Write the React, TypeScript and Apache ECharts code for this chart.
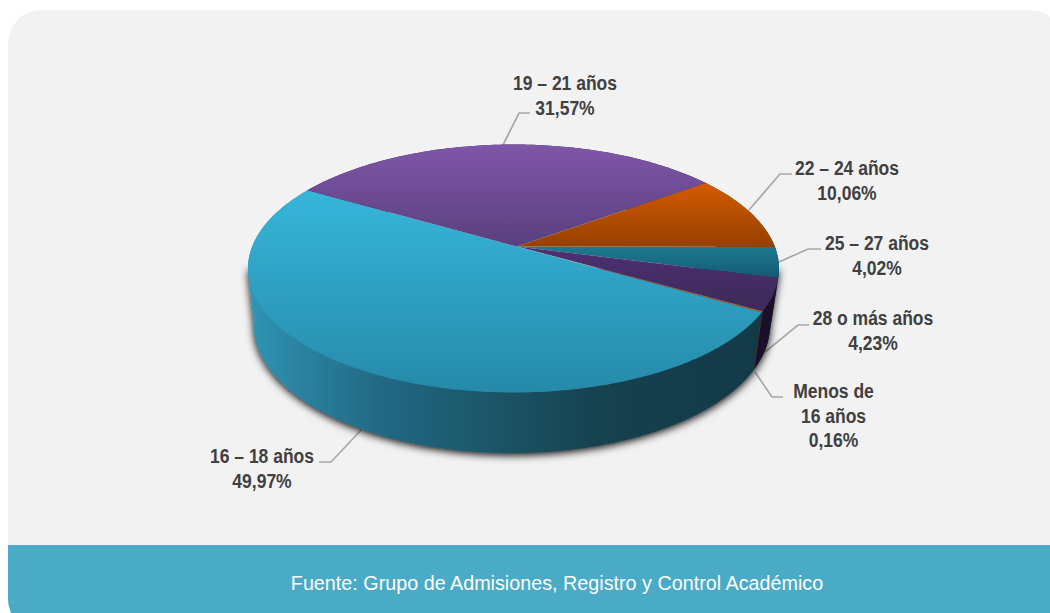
import React, { useEffect, useRef } from "react";
import * as echarts from "echarts";

// Clockwise from the east edge of the pie
const categories = ["25 – 27 años", "28 o más años", "Menos de 16 años", "16 – 18 años", "19 – 21 años", "22 – 24 años"];
const values = [4.02, 4.23, 0.16, 49.97, 31.57, 10.06];
const footerText = "Fuente: Grupo de Admisiones, Registro y Control Académico";

const topColors = [
  ["#1d7a91", "#145a72"],
  ["#4e2f74", "#3b2a56"],
  ["#c8703a", "#b0623a"],
  ["#36b6da", "#268aa9"],
  ["#7f56a9", "#59407d"],
  ["#d45b00", "#964000"],
];
const wallStops: [number, string][] = [
  [0, "#2f9abb"],
  [0.013, "#2f93b3"],
  [0.098, "#2a829f"],
  [0.249, "#216984"],
  [0.475, "#1b5465"],
  [0.663, "#16414f"],
  [0.964, "#133a48"],
  [0.973, "#1c0f2b"],
  [1, "#1c0f2b"],
];
const wallColors = ["#0e3b4a", "#1c0f2b", "#5a3010", "", "#3b2a56", "#7a3500"];

const labelLines = [
  ["25 – 27 años", "4,02%"],
  ["28 o más años", "4,23%"],
  ["Menos de", "16 años", "0,16%"],
  ["16 – 18 años", "49,97%"],
  ["19 – 21 años", "31,57%"],
  ["22 – 24 años", "10,06%"],
];
const labelCentres = [
  [877, 243],
  [873, 318],
  [833.5, 391],
  [262, 456],
  [565, 83],
  [847, 168],
];
const leaders = [
  [[779, 262], [808, 249], [821, 249]],
  [[765, 352], [798, 325], [809, 325]],
  [[755, 372], [772, 397], [783, 397]],
  [[362, 429], [331, 462], [319, 462]],
  [[503, 145], [519, 113], [530, 113]],
  [[749, 210], [780, 174], [792, 174]],
];

const TILT_Y = -0.177;
const TILT_X = 0.013;
const TOP = { cx: 513.5, cy: 268.5, rx: 265.5, ry: 124 };
const BOTTOM = { cx: 512, cy: 325, rx: 258, ry: 128 };
const SILHOUETTE = Math.asin(-TILT_Y);

// projective map of the unit disc onto itself, moving its centre off-centre
function project(u: number, v: number) {
  const dy = 1 + TILT_Y * v;
  const ey = (v + TILT_Y) / dy;
  const ex = (u * Math.sqrt(1 - TILT_Y * TILT_Y)) / dy;
  const dx = 1 + TILT_X * ex;
  return [(ex + TILT_X) / dx, (ey * Math.sqrt(1 - TILT_X * TILT_X)) / dx];
}
function place(e: typeof TOP, angle: number) {
  const [x, y] = project(Math.cos(angle), Math.sin(angle));
  return [e.cx + x * e.rx, e.cy + y * e.ry];
}
function arc(e: typeof TOP, a0: number, a1: number) {
  const n = Math.max(2, Math.ceil(Math.abs(a1 - a0) / 0.015));
  const out: number[][] = [];
  for (let i = 0; i <= n; i++) out.push(place(e, a0 + ((a1 - a0) * i) / n));
  return out;
}
function apex() {
  const [x, y] = project(0, 0);
  return [TOP.cx + x * TOP.rx, TOP.cy + y * TOP.ry];
}

const total = values.reduce((s, v) => s + v, 0);
function range(index: number) {
  let before = 0;
  for (let i = 0; i < index; i++) before += values[i];
  return [(before / total) * Math.PI * 2, ((before + values[index]) / total) * Math.PI * 2];
}
const seriesData = categories.map((name, i) => ({ name, value: values[i] }));

function wallGradient() {
  return new echarts.graphic.LinearGradient(
    248,
    0,
    779,
    0,
    wallStops.map(([offset, color]) => ({ offset, color })),
    true
  );
}

export default function App() {
  const ref = useRef<HTMLDivElement>(null);
  useEffect(() => {
    document.body.style.margin = "0";
    document.documentElement.style.overflow = "hidden";
    const chart = echarts.init(ref.current!, undefined, { renderer: "svg" });
    const labelFont = '"Liberation Sans", Arial, sans-serif';
    const graphics: any[] = [
      { type: "rect", z: -10, shape: { x: 8, y: 10, width: 1055, height: 622, r: 33 }, style: { fill: "#f2f2f2" } },
      { type: "rect", z: -9, shape: { x: 8, y: 545, width: 1055, height: 87, r: [0, 0, 33, 33] }, style: { fill: "#4aabc6" } },
      {
        type: "text",
        z: 5,
        x: 557,
        y: 583,
        scaleX: 0.941,
        style: { text: footerText, fill: "#ffffff", font: `21px ${labelFont}`, textAlign: "center", textVerticalAlign: "middle" },
      },
    ];
    labelLines.forEach((lines, i) => {
      graphics.push({
        type: "polyline",
        z: 0,
        shape: { points: leaders[i] },
        style: { stroke: "#a8a8a8", lineWidth: 1.7, fill: "none" },
      });
      lines.forEach((line, k) => {
        graphics.push({
          type: "text",
          z: 6,
          x: labelCentres[i][0],
          y: labelCentres[i][1] + k * 24.7,
          scaleX: 0.875,
          style: { text: line, fill: "#404040", font: `bold 20px ${labelFont}`, textAlign: "center", textVerticalAlign: "middle" },
        });
      });
    });
    chart.setOption({
      animation: false,
      graphic: graphics,
      series: [
        {
          type: "custom",
          coordinateSystem: "none",
          silent: true,
          z: 1,
          data: [{ name: "base", value: total }],
          renderItem: () => ({
            type: "polygon",
            shape: {
              points: [
                place(TOP, SILHOUETTE),
                ...arc(BOTTOM, SILHOUETTE, Math.PI - SILHOUETTE),
                place(TOP, Math.PI - SILHOUETTE),
              ],
            },
            style: { fill: wallGradient(), shadowBlur: 9, shadowColor: "rgba(0,0,0,1)", shadowOffsetY: 2 },
          }),
        },
        {
          type: "custom",
          coordinateSystem: "none",
          silent: true,
          z: 2,
          data: seriesData,
          renderItem: (params: any, api: any) => {
            api.value(0);
            const [a0, a1] = range(params.dataIndex);
            const pts = [...arc(TOP, a0, a1), ...arc(BOTTOM, a1, a0)];
            const color = wallColors[params.dataIndex];
            return {
              type: "polygon",
              shape: { points: pts },
              style: { fill: color || wallGradient() },
            };
          },
        },
        {
          type: "custom",
          coordinateSystem: "none",
          silent: true,
          z: 3,
          data: seriesData,
          renderItem: (params: any, api: any) => {
            api.value(0);
            const [a0, a1] = range(params.dataIndex);
            const c = topColors[params.dataIndex];
            return {
              type: "polygon",
              shape: { points: [apex(), ...arc(TOP, a0, a1)] },
              style: {
                fill: new echarts.graphic.LinearGradient(0, 0, 0, 1, [
                  { offset: 0, color: c[0] },
                  { offset: 1, color: c[1] },
                ]),
              },
            };
          },
        },
      ],
    });
    return () => chart.dispose();
  }, []);
  return <div ref={ref} style={{ width: 1050, height: 613 }} />;
}
